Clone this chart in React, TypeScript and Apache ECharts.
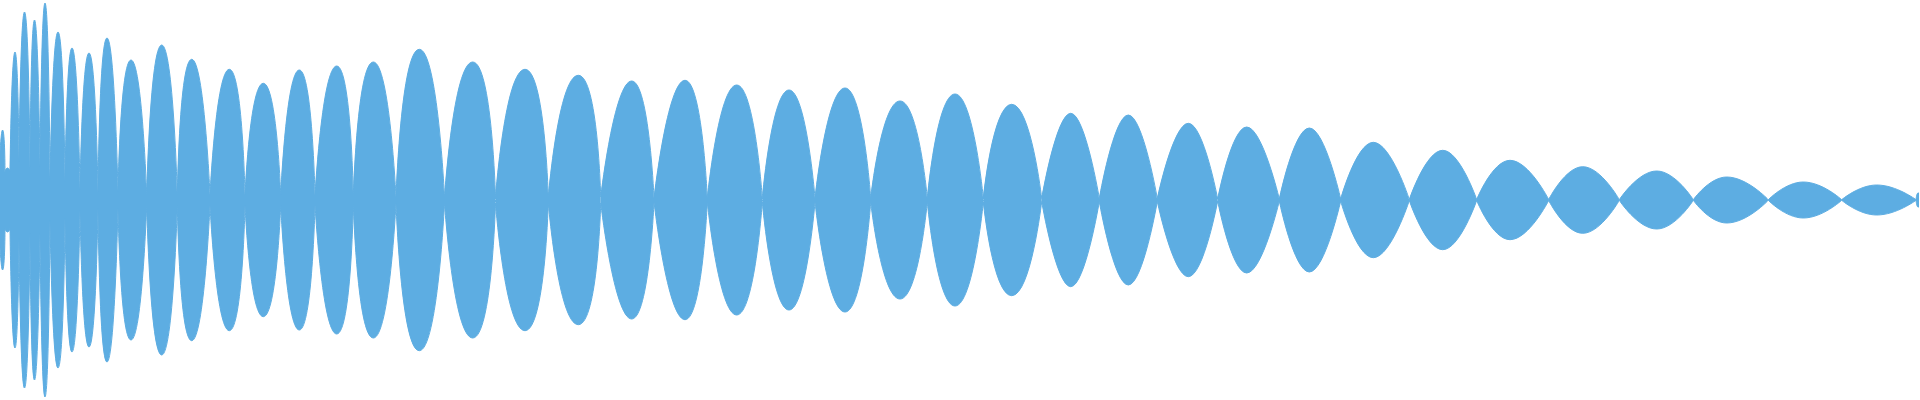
import React, { useEffect, useRef } from "react";
import * as echarts from "echarts";

// Node positions (sample index) and half-height of the waveform at each node
const nodeX = [
  0, 5, 10, 19, 30, 40, 50, 65, 80, 98, 118, 146.7, 177.3, 210, 245, 280.7, 315, 353.3,
  396, 444.5, 495.5, 548.3, 600.7, 654, 707.3, 762.3, 815, 870.7, 927.3, 983.3, 1041.7,
  1099.3, 1157.3, 1217.7, 1279.3, 1340.7, 1409.3, 1476.7, 1548.7, 1619.3, 1693.3, 1768.3,
  1841.7, 1916, 1919,
];
const nodeAmp = [
  47, 28, 28, 38, 33, 33, 20, 18, 10, 8, 8, 5, 5, 5, 5, 5, 5, 4, 3, 3, 3, 3, 3, 2, 2, 2, 2,
  2, 2, 2, 1.5, 1.5, 1.5, 1, 1, 1, 0.5, 0.5, 0.5, 0.3, 0.3, 0.3, 0.3, 0.3, 7,
];
// Peak of each lobe (between consecutive nodes)
const peakX = [
  2.5, 7.5, 15, 24.5, 34.5, 45, 58, 72, 89, 107, 131, 161.7, 191.7, 229.3, 263.3, 299.3,
  336.7, 373.3, 419.3, 472.7, 525, 578.3, 631.7, 685, 736.7, 789, 845, 900, 955, 1011.7,
  1070.7, 1128.3, 1188.3, 1246.7, 1309.3, 1373.3, 1442.7, 1510, 1582.7, 1656.7, 1726.7,
  1803.3, 1876.7, 1918,
];
const peakAmp = [
  70, 32, 148, 188, 180, 197, 168, 152, 147, 162, 140, 155, 140.7, 130.7, 116.7, 130, 134,
  138, 150.7, 138, 130.7, 124.7, 119, 119.7, 115, 110, 112, 99, 106, 95.7, 86.7, 85, 76.7,
  73, 72, 57.7, 49.7, 39.7, 33.3, 29, 23, 18, 15, 7,
];

const COLOR = "#5DADE2";

// lobe ranges drawn with a given curve roundness (fuller lobes on the left)
const groups = [
  { from: 0, to: 22, smooth: 0.75 },
  { from: 22, to: 30, smooth: 0.65 },
  { from: 30, to: 44, smooth: 0.5 },
];

function buildSeries(sign: number, from: number, to: number) {
  const data: (number | null)[][] = [];
  for (let i = from; i < to && i < peakX.length; i++) {
    data.push([nodeX[i], sign * nodeAmp[i]]);
    data.push([peakX[i], sign * peakAmp[i]]);
    data.push([nodeX[i + 1], sign * nodeAmp[i + 1]]);
    data.push([nodeX[i + 1], null]);
  }
  return data;
}

export default function App() {
  const ref = useRef<HTMLDivElement>(null);
  useEffect(() => {
    if (!ref.current) return;
    const chart = echarts.init(ref.current, null, { renderer: "svg" });
    const series: any[] = [];
    groups.forEach((g, gi) => {
      [1, -1].forEach((sign) => {
        series.push({
          type: "line",
          name: "wave" + gi + (sign > 0 ? "u" : "l"),
          smooth: g.smooth,
          symbol: "none",
          silent: true,
          connectNulls: false,
          lineStyle: { color: COLOR, width: 1 },
          itemStyle: { color: COLOR },
          areaStyle: { color: COLOR, opacity: 1 },
          data: buildSeries(sign, g.from, g.to),
        });
      });
    });
    chart.setOption({
      animation: false,
      grid: { left: 0, right: 0, top: 0, bottom: 0, containLabel: false },
      xAxis: { type: "value", min: 0, max: 1920, show: false },
      yAxis: { type: "value", min: -200, max: 200, show: false },
      series,
    });
    return () => chart.dispose();
  }, []);
  return (
    <div
      ref={ref}
      style={{ position: "absolute", left: 0, top: 0, width: 1920, height: 400, background: "#fff" }}
    />
  );
}
